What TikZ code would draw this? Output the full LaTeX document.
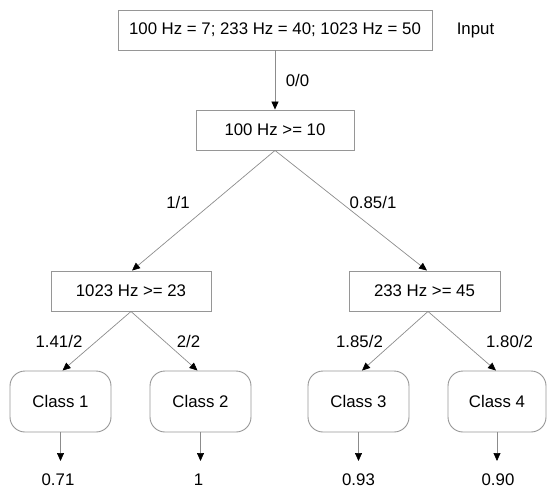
\documentclass[tikz,border=0pt]{standalone}
\usepackage{fontspec}
\setmainfont{Liberation Sans}
\usetikzlibrary{arrows.meta}
\definecolor{edgegray}{RGB}{140,140,140}
\definecolor{boxgray}{RGB}{150,150,150}
\begin{document}
\begin{tikzpicture}[x=1pt,y=-1pt,
  font=\fontsize{16.8}{20}\selectfont,
  test/.style={draw=boxgray,line width=0.9pt,rectangle,inner sep=0pt,minimum height=40pt},
  leaf/.style={draw=boxgray,line width=0.9pt,rectangle,rounded corners=15pt,inner sep=0pt,minimum height=61pt,minimum width=101pt},
  lbl/.style={inner sep=0pt},
  link/.style={draw=edgegray,line width=0.7pt,-{Triangle[length=8pt,width=7pt,color=black]}}]
\useasboundingbox (0,0) rectangle (547,488);

% input and decision nodes
\node[test,minimum width=314pt] (inp) at (275,30) {100 Hz = 7; 233 Hz = 40; 1023 Hz = 50};
\node[lbl] (inlbl) at (475.5,30) {Input};
\node[test,minimum width=158pt] (root) at (275,130) {100 Hz >= 10};
\node[test,minimum width=160pt] (left) at (131,291) {1023 Hz >= 23};
\node[test,minimum width=151pt] (right) at (424.5,291) {233 Hz >= 45};

% class leaves
\node[leaf] (c1) at (60.5,401.5) {Class 1};
\node[leaf] (c2) at (200.5,401.5) {Class 2};
\node[leaf] (c3) at (358.5,401.5) {Class 3};
\node[leaf,minimum width=98pt] (c4) at (497,401.5) {Class 4};

% output values
\coordinate (o1) at (60.5,461);
\coordinate (o2) at (200.5,461);
\coordinate (o3) at (358.5,461);
\coordinate (o4) at (497,461);
\node[lbl] (v1) at (58,479.5) {0.71};
\node[lbl] (v2) at (198.5,479.5) {1};
\node[lbl] (v3) at (358.5,479.5) {0.93};
\node[lbl] (v4) at (498,479.5) {0.90};

% connectors
\draw[link] (inp.south) -- (root.north);
\draw[link] (root.south) -- ([xshift=1pt]left.north);
\draw[link] (root.south) -- ([xshift=2.5pt]right.north);
\draw[link] (left.south) -- ([xshift=2pt]c1.north);
\draw[link] (left.south) -- ([xshift=-3pt]c2.north);
\draw[link] ([xshift=3.5pt]right.south) -- ([xshift=3.5pt]c3.north);
\draw[link] ([xshift=3.5pt]right.south) -- ([xshift=-1pt]c4.north);
\draw[link] (c1.south) -- (o1);
\draw[link] (c2.south) -- (o2);
\draw[link] (c3.south) -- (o3);
\draw[link] (c4.south) -- (o4);

% edge weights
\node[lbl] (w0) at (297.5,80) {0/0};
\node[lbl] (w1) at (178,202) {1/1};
\node[lbl] (w2) at (373,202) {0.85/1};
\node[lbl] (w3) at (59,341) {1.41/2};
\node[lbl] (w4) at (188.5,341) {2/2};
\node[lbl] (w5) at (359.5,341) {1.85/2};
\node[lbl] (w6) at (509.5,341) {1.80/2};
\end{tikzpicture}
\end{document}
